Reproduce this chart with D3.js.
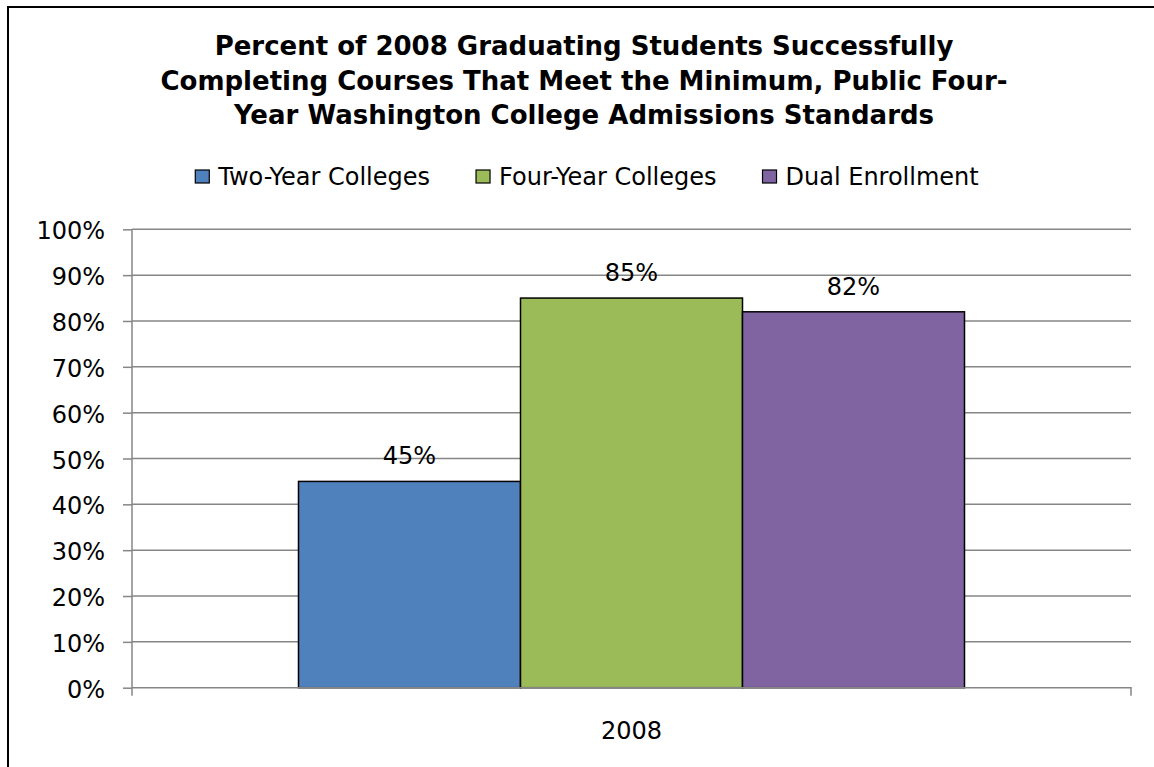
<!DOCTYPE html>
<html>
<head>
<meta charset="utf-8">
<script src="https://cdn.jsdelivr.net/npm/d3@7"></script>
<style>
  html, body { margin: 0; padding: 0; background: #fff; overflow: hidden; }
  svg { display: block; }
  text { font-family: "DejaVu Sans", Verdana, sans-serif; fill: #000; }
</style>
</head>
<body>
<svg id="chart" width="1154" height="767"></svg>
<script>
// ---- data ----
const titleLines = [
  "Percent of 2008 Graduating Students Successfully",
  "Completing Courses That Meet the Minimum, Public Four-",
  "Year Washington College Admissions Standards"
];
const categories = ["2008"];
const seriesNames = ["Two-Year Colleges", "Four-Year Colleges", "Dual Enrollment"];
const seriesValues = [0.45, 0.85, 0.82];
const seriesColors = ["#4F81BD", "#9BBB59", "#8064A2"];
const yTicks = [0, 0.1, 0.2, 0.3, 0.4, 0.5, 0.6, 0.7, 0.8, 0.9, 1.0];

// ---- layout ----
const plot = { left: 132, right: 1131, top: 229.3, bottom: 687.7 };
const gridColor = "#868686";
const labelSize = "24px";

const svg = d3.select("#chart");

// outer chart border (extends past right/bottom of window)
svg.append("rect")
  .attr("x", 8).attr("y", 7)
  .attr("width", 1152).attr("height", 800)
  .attr("fill", "#fff")
  .attr("stroke", "#000").attr("stroke-width", 2);

// title
const title = svg.append("text")
  .attr("text-anchor", "middle")
  .style("font-weight", "bold")
  .style("font-size", "26px");
title.selectAll("tspan").data(titleLines).join("tspan")
  .attr("x", 584)
  .attr("y", (d, i) => 55 + i * 34.5)
  .text(d => d);

// scales
const y = d3.scaleLinear().domain([0, 1]).range([plot.bottom, plot.top]);
const x0 = d3.scaleBand().domain(categories).range([plot.left, plot.right])
  .paddingInner(0).paddingOuter(0.25);
const x1 = d3.scaleBand().domain(seriesNames).range([0, x0.bandwidth()]).padding(0);

// gridlines
svg.append("g").selectAll("line").data(yTicks.filter(d => d > 0)).join("line")
  .attr("x1", plot.left).attr("x2", plot.right)
  .attr("y1", d => y(d)).attr("y2", d => y(d))
  .attr("stroke", gridColor).attr("stroke-width", 1.5);

// y axis
const yAxis = svg.append("g")
  .attr("transform", `translate(${plot.left},0)`)
  .call(d3.axisLeft(y).tickValues(yTicks).tickFormat(d3.format(".0%"))
    .tickSizeInner(9).tickSizeOuter(0).tickPadding(18));
yAxis.select(".domain").attr("stroke", gridColor).attr("stroke-width", 1.5)
  .attr("d", `M0,${plot.top}V${plot.bottom + 8}`);
yAxis.selectAll(".tick line").attr("stroke", gridColor).attr("stroke-width", 1.5);
yAxis.selectAll(".tick text")
  .style("font-family", "'DejaVu Sans', Verdana, sans-serif")
  .style("font-size", labelSize).attr("fill", "#000").attr("dy", "0.4em");

// bars
const g = svg.append("g");
categories.forEach(cat => {
  seriesNames.forEach((s, i) => {
    const v = seriesValues[i];
    g.append("rect")
      .attr("x", x0(cat) + x1(s))
      .attr("y", y(v))
      .attr("width", x1.bandwidth())
      .attr("height", y(0) - y(v))
      .attr("fill", seriesColors[i])
      .attr("stroke", "#000").attr("stroke-width", 1.5);
    g.append("text")
      .attr("x", x0(cat) + x1(s) + x1.bandwidth() / 2)
      .attr("y", y(v) - 17)
      .attr("text-anchor", "middle")
      .style("font-size", labelSize)
      .text(d3.format(".0%")(v));
  });
});

// x axis
const xAxis = svg.append("g")
  .attr("transform", `translate(0,${plot.bottom})`)
  .call(d3.axisBottom(x0).tickSize(0).tickPadding(0));
xAxis.select(".domain").attr("stroke", gridColor).attr("stroke-width", 1.5)
  .attr("d", `M${plot.left},0H${plot.right}V8`);
xAxis.selectAll(".tick text")
  .style("font-family", "'DejaVu Sans', Verdana, sans-serif")
  .style("font-size", labelSize).attr("fill", "#000")
  .attr("dy", 0).attr("y", 51);

// legend
const legend = svg.append("g");
const items = legend.selectAll("g").data(seriesNames).join("g");
items.append("rect")
  .attr("x", 0).attr("y", -15)
  .attr("width", 14).attr("height", 13)
  .attr("fill", (d, i) => seriesColors[i])
  .attr("stroke", "#000").attr("stroke-width", 1.2);
items.append("text")
  .attr("x", 23).attr("y", 0)
  .style("font-size", labelSize)
  .text(d => d);
const gap = 46;
const widths = [];
items.each(function () {
  widths.push(23 + d3.select(this).select("text").node().getComputedTextLength());
});
const totalW = d3.sum(widths) + gap * (widths.length - 1);
let cx = 587 - totalW / 2;
items.attr("transform", (d, i) => {
  const t = `translate(${cx},185)`;
  cx += widths[i] + gap;
  return t;
});
</script>
</body>
</html>
